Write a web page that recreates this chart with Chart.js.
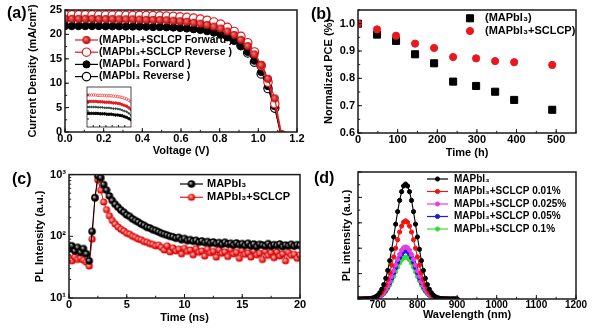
<!DOCTYPE html>
<html>
<head>
<meta charset="utf-8">
<script src="https://cdn.jsdelivr.net/npm/chart.js@4.4.1/dist/chart.umd.min.js"></script>
<style>
  html, body { margin: 0; padding: 0; background: #fff; }
  #wrap { position: relative; width: 600px; height: 331px; overflow: hidden; }
  canvas { position: absolute; }
  .tag { position: absolute; font: bold 16px 'Liberation Sans', Arial, sans-serif; line-height: 1; color: #000; }
</style>
</head>
<body>
<div id="wrap">
  <canvas id="jv" width="330" height="165" style="left:0px;top:0px"></canvas>
  <canvas id="inset" width="54" height="50" style="left:82px;top:82px"></canvas>
  <canvas id="pce" width="300" height="165" style="left:300px;top:0px"></canvas>
  <canvas id="trpl" width="330" height="166" style="left:0px;top:165px"></canvas>
  <canvas id="pl" width="300" height="166" style="left:300px;top:165px"></canvas>
  <div class="tag" style="left:7px;top:5px">(a)</div>
  <div class="tag" style="left:311px;top:6px">(b)</div>
  <div class="tag" style="left:12px;top:171px">(c)</div>
  <div class="tag" style="left:314px;top:170px">(d)</div>
</div>
<script>
// ---- data: (a) J-V curves
const aVolt = [0.000, 0.035, 0.070, 0.105, 0.140, 0.175, 0.210, 0.245, 0.280, 0.315, 0.350, 0.385, 0.420, 0.455, 0.490, 0.525,
  0.560, 0.595, 0.630, 0.665, 0.700, 0.735, 0.770, 0.805, 0.840, 0.875, 0.910, 0.945, 0.980, 1.015, 1.050, 1.085, 1.120];
const aHybridFwd = [23.2, 23.2, 23.2, 23.2, 23.2, 23.15, 23.15, 23.15, 23.1, 23.1, 23.1, 23.05, 23.0, 23.0, 22.95, 22.9,
  22.8, 22.7, 22.6, 22.4, 22.2, 21.95, 21.6, 21.2, 20.6, 19.9, 18.9, 17.6, 15.9, 13.7, 10.9, 6.9, -0.4];
const aHybridRev = [24.0, 24.0, 24.0, 24.0, 24.0, 23.95, 23.95, 23.95, 23.95, 23.9, 23.9, 23.9, 23.85, 23.85, 23.8, 23.75,
  23.7, 23.6, 23.5, 23.35, 23.15, 22.9, 22.55, 22.1, 21.45, 20.6, 19.6, 18.3, 16.4, 13.6, 10.2, 5.8, -1.0];
const aPristineFwd = [21.7, 21.7, 21.7, 21.7, 21.7, 21.7, 21.65, 21.65, 21.65, 21.6, 21.6, 21.6, 21.55, 21.5, 21.5, 21.45,
  21.4, 21.3, 21.2, 21.05, 20.9, 20.65, 20.35, 19.95, 19.4, 18.7, 17.7, 16.4, 14.6, 12.3, 9.4, 5.3, -0.9];
const aPristineRev = [22.5, 22.5, 22.5, 22.5, 22.5, 22.45, 22.45, 22.45, 22.4, 22.4, 22.4, 22.35, 22.3, 22.3, 22.25, 22.2,
  22.1, 22.0, 21.9, 21.7, 21.5, 21.2, 20.85, 20.35, 19.7, 18.85, 17.7, 16.2, 14.3, 11.9, 8.9, 4.9, -1.2];
const aTickX = [0, 0.2, 0.4, 0.6, 0.8, 1.0, 1.2];
const aTickY = [0, 5, 10, 15, 20, 25];
const insetTickX = [0.1, 0.2, 0.3, 0.4, 0.5, 0.6];
const insetTickY = [21, 22, 23, 24];

// ---- data: (b) stability
const bHours = [0, 48, 96, 144, 192, 240, 298, 346, 394, 490];
const bPristine = [1.00, 0.960, 0.937, 0.888, 0.855, 0.788, 0.772, 0.751, 0.721, 0.685];
const bHybrid = [1.00, 0.979, 0.956, 0.927, 0.911, 0.878, 0.873, 0.863, 0.859, 0.849];
const bTickX = [0, 100, 200, 300, 400, 500];
const bTickY = [0.6, 0.7, 0.8, 0.9, 1.0];

// ---- data: (c) TRPL decay
const cTime = [0, 0.25, 0.5, 0.75, 1, 1.25, 1.5, 1.75, 2, 2.25, 2.5, 2.75, 3, 3.25, 3.5, 3.75, 4, 4.25, 4.5, 4.75,
  5, 5.25, 5.5, 5.75, 6, 6.25, 6.5, 6.75, 7, 7.25, 7.5, 7.75, 8, 8.25, 8.5, 8.75, 9, 9.25, 9.5, 9.75,
  10, 10.25, 10.5, 10.75, 11, 11.25, 11.5, 11.75, 12, 12.25, 12.5, 12.75, 13, 13.25, 13.5, 13.75, 14, 14.25, 14.5, 14.75,
  15, 15.25, 15.5, 15.75, 16, 16.25, 16.5, 16.75, 17, 17.25, 17.5, 17.75, 18, 18.25, 18.5, 18.75, 19, 19.25, 19.5, 19.75, 20];
const cPristine = [62, 70, 58, 66, 55, 63, 52, 40, 120, 420, 960, 890, 690, 560, 450, 380, 330, 295, 265, 245,
  222, 210, 192, 180, 170, 158, 150, 140, 136, 128, 124, 118, 112, 108, 104, 100, 98, 93, 96, 88,
  92, 85, 88, 83, 86, 80, 84, 79, 82, 77, 81, 76, 79, 74, 80, 75, 77, 72, 78, 73,
  76, 71, 77, 70, 75, 68, 74, 72, 70, 76, 69, 73, 71, 75, 68, 72, 70, 74, 69, 73, 71];
const cHybrid = [44, 40, 46, 42, 45, 41, 38, 33, 90, 430, 820, 560, 360, 270, 215, 180, 158, 142, 130, 122,
  112, 108, 100, 96, 90, 88, 82, 80, 76, 74, 70, 72, 66, 60, 70, 56, 65, 58, 62, 52,
  64, 57, 60, 50, 63, 55, 58, 48, 62, 54, 57, 46, 60, 53, 56, 47, 61, 52, 55, 44,
  59, 51, 54, 46, 58, 50, 53, 42, 57, 49, 55, 45, 56, 48, 52, 40, 55, 49, 51, 44, 50];
const cTickX = [0, 5, 10, 15, 20];
const cTickY = [10, 100, 1000];

// ---- data: (d) steady-state PL
const dWave = [650, 655, 660, 665, 670, 675, 680, 685, 690, 695, 700, 705, 710, 715, 720, 725, 730, 735, 740, 745,
  750, 755, 760, 765, 770, 775, 780, 785, 790, 795, 800, 805, 810, 815, 820, 825, 830, 835, 840, 845,
  850, 855, 860, 865, 870, 875, 880, 885, 890, 895, 900];
const dPristine = [0, 0, 0, 0.01, 0.01, 0.02, 0.04, 0.06, 0.11, 0.19, 0.31, 0.50, 0.77, 1.14, 1.63, 2.25, 3.02, 3.91, 4.88, 5.89,
  6.88, 7.76, 8.45, 8.90, 9.05, 8.90, 8.45, 7.76, 6.88, 5.89, 4.88, 3.91, 3.02, 2.25, 1.63, 1.14, 0.77, 0.50, 0.31, 0.19,
  0.11, 0.06, 0.04, 0.02, 0.01, 0.01, 0, 0, 0, 0, 0];
const dHybrid010 = [0, 0, 0, 0, 0.01, 0.01, 0.02, 0.04, 0.08, 0.13, 0.21, 0.34, 0.52, 0.77, 1.11, 1.53, 2.05, 2.66, 3.31, 4.00,
  4.67, 5.27, 5.74, 6.05, 6.15, 6.05, 5.74, 5.27, 4.67, 4.00, 3.31, 2.66, 2.05, 1.53, 1.11, 0.77, 0.52, 0.34, 0.21, 0.13,
  0.08, 0.04, 0.02, 0.01, 0.01, 0, 0, 0, 0, 0, 0];
const dHybrid025 = [0, 0, 0, 0, 0.01, 0.01, 0.02, 0.03, 0.05, 0.09, 0.14, 0.23, 0.35, 0.51, 0.74, 1.02, 1.37, 1.77, 2.21, 2.67,
  3.12, 3.51, 3.83, 4.03, 4.10, 4.03, 3.83, 3.51, 3.12, 2.67, 2.21, 1.77, 1.37, 1.02, 0.74, 0.51, 0.35, 0.23, 0.14, 0.09,
  0.05, 0.03, 0.02, 0.01, 0.01, 0, 0, 0, 0, 0, 0];
const dHybrid050 = [0, 0, 0, 0, 0.01, 0.01, 0.01, 0.03, 0.05, 0.08, 0.13, 0.21, 0.32, 0.48, 0.68, 0.95, 1.27, 1.64, 2.05, 2.47,
  2.89, 3.26, 3.55, 3.74, 3.80, 3.74, 3.55, 3.26, 2.89, 2.47, 2.05, 1.64, 1.27, 0.95, 0.68, 0.48, 0.32, 0.21, 0.13, 0.08,
  0.05, 0.03, 0.01, 0.01, 0, 0, 0, 0, 0, 0, 0];
const dHybrid100 = [0, 0, 0, 0, 0, 0.01, 0.01, 0.02, 0.04, 0.07, 0.11, 0.18, 0.28, 0.41, 0.59, 0.82, 1.10, 1.43, 1.78, 2.15,
  2.51, 2.83, 3.08, 3.24, 3.30, 3.24, 3.08, 2.83, 2.51, 2.15, 1.78, 1.43, 1.10, 0.82, 0.59, 0.41, 0.28, 0.18, 0.11, 0.07,
  0.04, 0.02, 0.01, 0.01, 0, 0, 0, 0, 0, 0, 0];
const dTickX = [700, 800, 900, 1000, 1100, 1200];
const dTickY = [0, 2, 4, 6, 8, 10];

// ---- styling helpers
const FONT = "'Liberation Sans', Arial, sans-serif";
const RED = '#e8191e';
Chart.defaults.font.family = FONT;
Chart.defaults.color = '#000';

const pts = (xs, ys) => xs.map((x, i) => ({ x: x, y: ys[i] }));

// little shaded ball used as a marker
function ball(r, inner, outer, stop) {
  const c = document.createElement('canvas');
  c.width = c.height = Math.ceil(2 * r + 2);
  const g = c.getContext('2d');
  const m = c.width / 2;
  const grad = g.createRadialGradient(m - r * 0.3, m - r * 0.3, 0.2, m, m, r);
  grad.addColorStop(0, inner);
  grad.addColorStop(stop || 1, outer);
  grad.addColorStop(1, outer);
  g.fillStyle = grad;
  g.beginPath();
  g.arc(m, m, r, 0, Math.PI * 2);
  g.fill();
  return c;
}
const redBall = ball(4, '#ff7a7a', '#b00000');
const blackBall = ball(3.8, '#cfcfcf', '#000', 0.55);
const pinkBall = ball(3.6, '#ffc0c0', '#e00000', 0.8);

function mark(ctx, ds, x, y) {
  const st = ds.pointStyle;
  if (st instanceof HTMLCanvasElement) {
    ctx.drawImage(st, x - st.width / 2, y - st.height / 2);
    return;
  }
  const r = ds.pointRadius;
  ctx.fillStyle = ds.pointBackgroundColor;
  ctx.strokeStyle = ds.pointBorderColor;
  ctx.lineWidth = ds.pointBorderWidth || 1;
  ctx.beginPath();
  if (st === 'rect') {
    const s = r * Math.SQRT1_2;
    ctx.rect(x - s, y - s, 2 * s, 2 * s);
  } else {
    ctx.arc(x, y, r, 0, Math.PI * 2);
  }
  ctx.fill();
  ctx.stroke();
}

// legend drawn at a fixed spot inside the plot
const boxLegend = {
  id: 'boxLegend',
  afterDraw(chart, args, o) {
    if (!o || o.x === undefined) return;
    const ctx = chart.ctx;
    ctx.save();
    ctx.font = 'bold ' + o.size + 'px ' + FONT;
    ctx.textBaseline = 'middle';
    chart.data.datasets.forEach((ds, i) => {
      const y = o.y + i * o.gap;
      if (o.len) {
        ctx.strokeStyle = ds.borderColor;
        ctx.lineWidth = 1.2;
        ctx.beginPath();
        ctx.moveTo(o.x, y);
        ctx.lineTo(o.x + o.len, y);
        ctx.stroke();
      }
      mark(ctx, ds, o.x + o.len / 2, y);
      ctx.fillStyle = '#000';
      ctx.fillText(ds.label, o.tx, y);
    });
    ctx.restore();
  }
};

// box around the plot plus inward ticks
const frame = {
  id: 'frame',
  afterDatasetsDraw(chart, args, o) {
    const { ctx, chartArea: a } = chart;
    const sx = chart.scales.x, sy = chart.scales.y;
    ctx.save();
    ctx.strokeStyle = '#1a1a1a';
    ctx.lineWidth = 1;
    ctx.beginPath();
    const seg = (x1, y1, x2, y2) => { ctx.moveTo(x1, y1); ctx.lineTo(x2, y2); };
    o.xt.forEach(v => { const p = sx.getPixelForValue(v); seg(p, a.bottom, p, a.bottom - o.len); });
    o.yt.forEach(v => { const p = sy.getPixelForValue(v); seg(a.left, p, a.left + o.len, p); });
    if (o.xm) {
      for (let v = sx.min; v <= sx.max + 1e-9; v += o.xm) {
        const p = sx.getPixelForValue(v); seg(p, a.bottom, p, a.bottom - o.len * 0.55);
      }
    }
    if (o.log) {
      for (let d = sy.min; d < sy.max; d *= 10) {
        for (let k = 2; k < 10; k++) {
          const p = sy.getPixelForValue(k * d); seg(a.left, p, a.left + o.len * 0.55, p);
        }
      }
    } else if (o.ym) {
      for (let v = sy.min; v <= sy.max + 1e-9; v += o.ym) {
        const p = sy.getPixelForValue(v); seg(a.left, p, a.left + o.len * 0.55, p);
      }
    }
    ctx.stroke();
    ctx.lineWidth = o.bw;
    ctx.strokeRect(a.left, a.top, a.right - a.left, a.bottom - a.top);
    ctx.restore();
  }
};

function xAxis(min, max, ticks, fmt, title, h, size) {
  return {
    type: 'linear', position: 'bottom', min: min, max: max,
    grid: { display: false, drawTicks: false }, border: { display: false },
    afterBuildTicks: s => { s.ticks = ticks.map(v => ({ value: v })); },
    afterFit: s => { s.height = h; },
    ticks: { padding: 1, autoSkip: false, maxRotation: 0, color: '#000',
      font: { size: size || 11, weight: 'bold', lineHeight: 1 }, callback: fmt },
    title: { display: true, text: title, padding: 0, color: '#000', font: { size: 11, weight: 'bold' } }
  };
}

function yAxis(min, max, ticks, fmt, title, w, type) {
  return {
    type: type || 'linear', position: 'left', min: min, max: max,
    grid: { display: false, drawTicks: false }, border: { display: false },
    afterBuildTicks: s => { s.ticks = ticks.map(v => ({ value: v })); },
    afterFit: s => { s.width = w; },
    ticks: { padding: 3, autoSkip: false, color: '#000', display: !!fmt,
      font: { size: 11, weight: 'bold' }, callback: fmt },
    title: { display: true, text: title, padding: 0, color: '#000', font: { size: 11, weight: 'bold' } }
  };
}

function opts(pad, x, y, legend, fr) {
  return {
    responsive: false, animation: false, events: [], devicePixelRatio: 1,
    layout: { padding: pad },
    scales: { x: x, y: y },
    plugins: { legend: { display: false }, tooltip: { enabled: false }, boxLegend: legend, frame: fr }
  };
}

function lineSet(label, xs, ys, color, extra) {
  return Object.assign({
    label: label, data: pts(xs, ys), showLine: true, borderColor: color, borderWidth: 1.2,
    pointRadius: 3.6, pointBackgroundColor: color, pointBorderColor: color, pointBorderWidth: 1
  }, extra || {});
}

// ---- (a)
new Chart(document.getElementById('jv'), {
  type: 'scatter',
  data: { datasets: [
    lineSet('(MAPbI₃+SCLCP Forward )', aVolt, aHybridFwd, RED, { pointStyle: redBall, pointRadius: 4 }),
    lineSet('(MAPbI₃+SCLCP Reverse )', aVolt, aHybridRev, RED, { pointRadius: 4.2, pointBackgroundColor: '#fff', pointBorderWidth: 1.2 }),
    lineSet('(MAPbI₃ Forward )', aVolt, aPristineFwd, '#000'),
    lineSet('(MAPbI₃ Reverse )', aVolt, aPristineRev, '#000', { pointRadius: 4.2, pointBackgroundColor: '#fff', pointBorderWidth: 1.2 })
  ]},
  options: opts({ left: 26.4, right: 33, top: 10, bottom: 7.4 },
    xAxis(0, 1.2, aTickX, v => v.toFixed(1), 'Voltage (V)', 25.6),
    yAxis(0, 25, aTickY, v => String(v), 'Current Density (mA/cm²)', 38.6),
    { x: 75, len: 23, tx: 99, y: 40, gap: 12.2, size: 10.5 },
    { xt: aTickX, yt: aTickY, xm: 0.1, ym: 2.5, len: 4, bw: 1.5 }),
  plugins: [frame, boxLegend]
});

// inset of (a)
const n = 21;
new Chart(document.getElementById('inset'), {
  type: 'scatter',
  data: { datasets: [
    lineSet('', aVolt.slice(0, n), aHybridFwd.slice(0, n), RED, { borderWidth: 0.8, pointRadius: 1.2 }),
    lineSet('', aVolt.slice(0, n), aHybridRev.slice(0, n), RED, { borderWidth: 0.8, pointRadius: 1.3, pointBackgroundColor: '#fff', pointBorderWidth: 0.6 }),
    lineSet('', aVolt.slice(0, n), aPristineFwd.slice(0, n), '#000', { borderWidth: 0.8, pointRadius: 1.2 }),
    lineSet('', aVolt.slice(0, n), aPristineRev.slice(0, n), '#2b4a4a', { borderWidth: 0.8, pointRadius: 0.8 })
  ]},
  options: opts({ left: 3, right: 1, top: 3, bottom: 4 },
    { type: 'linear', display: false, min: 0, max: 0.7 },
    { type: 'linear', display: false, min: 20, max: 25 },
    undefined,
    { xt: insetTickX, yt: insetTickY, len: 2, bw: 0.8 }),
  plugins: [frame]
});

// ---- (b)
new Chart(document.getElementById('pce'), {
  type: 'scatter',
  data: { datasets: [
    { label: '(MAPbI₃)', data: pts(bHours, bPristine), order: 1, pointStyle: 'rect', pointRadius: 5,
      pointBackgroundColor: '#000', pointBorderColor: '#000', pointBorderWidth: 1 },
    { label: '(MAPbI₃+SCLCP)', data: pts(bHours, bHybrid), order: 0, pointStyle: 'circle', pointRadius: 3.6,
      pointBackgroundColor: RED, pointBorderColor: RED, pointBorderWidth: 1 }
  ]},
  options: opts({ left: 22.4, right: 24, top: 10, bottom: 5.7 },
    xAxis(0, 550, bTickX, v => String(v), 'Time (h)', 26.3),
    yAxis(0.6, 1.05, bTickY, v => v.toFixed(1), 'Normalized PCE (%)', 35.6),
    { x: 170, len: 0, tx: 185, y: 18.3, gap: 12.7, size: 11 },
    { xt: bTickX, yt: bTickY, xm: 50, ym: 0.05, len: 4, bw: 1.5 }),
  plugins: [frame, boxLegend]
});

// ---- (c)
const sup = { 10: '10¹', 100: '10²', 1000: '10³' };
new Chart(document.getElementById('trpl'), {
  type: 'scatter',
  data: { datasets: [
    lineSet('MAPbI₃', cTime, cPristine, '#000', { borderWidth: 1, pointStyle: blackBall, pointRadius: 3.8 }),
    lineSet('MAPbI₃+SCLCP', cTime, cHybrid, RED, { borderWidth: 1, pointStyle: pinkBall, pointRadius: 3.6 })
  ]},
  options: opts({ left: 33.4, right: 30, top: 9, bottom: 6.4 },
    xAxis(0, 20, cTickX, v => String(v), 'Time (ns)', 26.6),
    yAxis(10, 1000, cTickY, v => sup[v], 'PL Intensity (a.u.)', 35.6, 'logarithmic'),
    { x: 180, len: 23, tx: 207, y: 19, gap: 13.3, size: 11 },
    { xt: cTickX, yt: cTickY, xm: 2.5, log: true, len: 4, bw: 1.5 }),
  plugins: [frame, boxLegend]
});

// ---- (d)
const plSet = (label, ys, color) => lineSet(label, dWave, ys, color, { borderWidth: 1.1, pointRadius: 2.1 });
new Chart(document.getElementById('pl'), {
  type: 'scatter',
  data: { datasets: [
    plSet('MAPbI₃', dPristine, '#000'),
    plSet('MAPbI₃+SCLCP 0.01%', dHybrid010, '#f01414'),
    plSet('MAPbI₃+SCLCP 0.025%', dHybrid025, '#e53de5'),
    plSet('MAPbI₃+SCLCP 0.05%', dHybrid050, '#1a1ae0'),
    plSet('MAPbI₃+SCLCP 0.1%', dHybrid100, '#33dd33')
  ]},
  options: opts({ left: 40.4, right: 24, top: 7, bottom: 9.5 },
    xAxis(650, 1200, dTickX, v => String(v), 'Wavelength (nm)', 22.5, 10),
    yAxis(0, 10, dTickY, null, 'PL intensity (a.u.)', 17.6),
    { x: 127, len: 21, tx: 154, y: 14, gap: 12.5, size: 10 },
    { xt: dTickX, yt: dTickY, xm: 50, ym: 1, len: 4, bw: 1.5 }),
  plugins: [frame, boxLegend]
});
</script>
</body>
</html>
